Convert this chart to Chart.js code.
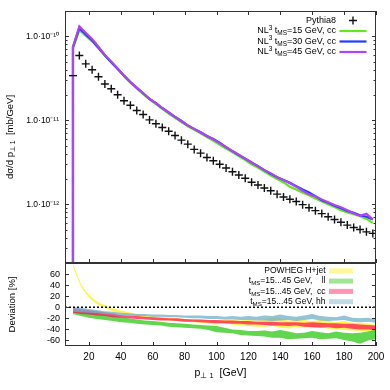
<!DOCTYPE html>
<html>
<head>
<meta charset="utf-8">
<script src="https://cdn.jsdelivr.net/npm/chart.js@4.4.0/dist/chart.umd.min.js"></script>
<style>
  html, body { margin: 0; padding: 0; background: #fff; }
  #wrap { position: relative; width: 390px; height: 390px; overflow: hidden; }
  #top { position: absolute; left: 0; top: 0; }
  #bottom { position: absolute; left: 0; top: 263px; }
</style>
</head>
<body>
<div id="wrap">
  <canvas id="top" width="390" height="269"></canvas>
  <canvas id="bottom" width="390" height="127"></canvas>
</div>
<script>
// ---- data ----
const xMin = 5, xMax = 200;
const xTicks = [20, 40, 60, 80, 100, 120, 140, 160, 180, 200];

// top panel: d sigma / d pT (mb/GeV), bins centred every 4 GeV
const ptX = [10, 14, 18, 22, 26, 30, 34, 38, 42, 46, 50, 54, 58, 62, 66, 70, 74, 78, 82, 86, 90, 94, 98, 102,
             106, 110, 114, 118, 122, 126, 130, 134, 138, 142, 146, 150, 154, 158, 162, 166, 170, 174, 178, 182, 186, 190, 194, 198];
const pythia8 = [3.4e-11, 5.9e-11, 4.7e-11, 4.0e-11, 3.3e-11, 2.7e-11, 2.37e-11, 2.01e-11, 1.71e-11, 1.51e-11, 1.31e-11, 1.17e-11,
                 1.01e-11, 9.1e-12, 8.2e-12, 7.4e-12, 6.6e-12, 5.8e-12, 5.2e-12, 4.5e-12, 4.06e-12, 3.61e-12, 3.3e-12, 3.0e-12,
                 2.7e-12, 2.44e-12, 2.23e-12, 2.04e-12, 1.83e-12, 1.70e-12, 1.56e-12, 1.45e-12, 1.32e-12, 1.22e-12, 1.15e-12, 1.08e-12,
                 9.9e-13, 9.1e-13, 8.4e-13, 7.75e-13, 7.1e-13, 6.6e-13, 6.1e-13, 5.65e-13, 5.3e-13, 5.0e-13, 4.7e-13, 4.5e-13];
const nl15 = [7.2e-11, 1.18e-10, 1.01e-10, 8.7e-11, 7.2e-11, 5.9e-11, 4.9e-11, 4.05e-11, 3.35e-11, 2.8e-11, 2.4e-11, 2.05e-11,
              1.77e-11, 1.56e-11, 1.37e-11, 1.2e-11, 1.07e-11, 9.5e-12, 8.5e-12, 7.7e-12, 7.0e-12, 6.3e-12, 5.7e-12, 5.1e-12,
              4.6e-12, 4.15e-12, 3.75e-12, 3.35e-12, 3.0e-12, 2.72e-12, 2.45e-12, 2.2e-12, 2.0e-12, 1.82e-12, 1.62e-12, 1.5e-12,
              1.37e-12, 1.28e-12, 1.17e-12, 1.08e-12, 1.0e-12, 9.3e-13, 8.5e-13, 8.0e-13, 7.6e-13, 7.2e-13, 6.7e-13, 6.0e-13];
const nl30 = [7.4e-11, 1.25e-10, 1.05e-10, 8.9e-11, 7.3e-11, 5.9e-11, 4.9e-11, 4.1e-11, 3.4e-11, 2.85e-11, 2.44e-11, 2.1e-11,
              1.8e-11, 1.6e-11, 1.4e-11, 1.24e-11, 1.1e-11, 9.8e-12, 8.7e-12, 7.9e-12, 7.2e-12, 6.5e-12, 6.0e-12, 5.4e-12,
              4.8e-12, 4.3e-12, 3.85e-12, 3.5e-12, 3.15e-12, 2.85e-12, 2.55e-12, 2.3e-12, 2.1e-12, 1.95e-12, 1.8e-12, 1.64e-12,
              1.5e-12, 1.38e-12, 1.25e-12, 1.12e-12, 1.04e-12, 9.6e-13, 9.0e-13, 8.3e-13, 7.9e-13, 7.4e-13, 7.1e-13, 6.6e-13];
const nl45 = [7.5e-11, 1.31e-10, 1.10e-10, 9.3e-11, 7.5e-11, 6.0e-11, 5.0e-11, 4.15e-11, 3.4e-11, 2.85e-11, 2.45e-11, 2.1e-11,
              1.8e-11, 1.6e-11, 1.4e-11, 1.24e-11, 1.1e-11, 9.8e-12, 8.7e-12, 7.9e-12, 7.2e-12, 6.5e-12, 5.9e-12, 5.35e-12,
              4.8e-12, 4.3e-12, 3.9e-12, 3.5e-12, 3.15e-12, 2.85e-12, 2.55e-12, 2.35e-12, 2.1e-12, 1.95e-12, 1.78e-12, 1.62e-12,
              1.45e-12, 1.32e-12, 1.24e-12, 1.14e-12, 1.06e-12, 9.8e-13, 9.2e-13, 8.5e-13, 7.8e-13, 7.3e-13, 7.7e-13, 6.6e-13];
const belowCut = 1e-14;   // value below the pT cut, off the axis
const yTopTicks = [1e-12, 1e-11, 1e-10];
const yTopLabels = ['1.0·10⁻¹²', '1.0·10⁻¹¹', '1.0·10⁻¹⁰'];

// bottom panel: deviation bands in %, every 5 GeV
const bandX = [10, 15, 20, 25, 30, 35, 40, 45, 50, 55, 60, 65, 70, 75, 80, 85, 90, 95, 100,
               105, 110, 115, 120, 125, 130, 135, 140, 145, 150, 155, 160, 165, 170, 175, 180, 185, 190, 195, 200];
const powhegHi = [79, 43, 23, 11, 4, -2, -6, -9, -12, -14, -16, -17, -19, -20, -21, -21, -22, -23, -24,
                  -22, -23, -24, -23, -24, -22, -19, -20, -24, -22, -23, -25, -23, -24, -27, -25, -28, -28, -30, -32];
const powhegLo = [74, 38, 18, 6, -1, -7, -11, -15, -17, -19, -21, -23, -24, -25, -26, -27, -28, -30, -31,
                  -30, -31, -33, -34, -35, -35, -34, -37, -38, -36, -37, -37, -36, -39, -40, -41, -42, -43, -44, -46];
const llHi = [-5, -7, -9, -10, -13, -15, -18, -20, -22, -24, -25, -26, -28, -29, -30, -31, -32, -33, -34,
              -37, -40, -41, -43, -43, -42, -44, -41, -44, -47, -46, -43, -45, -47, -44, -46, -47, -46, -44, -40];
const llLo = [-12, -16, -19, -21, -23, -25, -27, -28, -30, -31, -32, -33, -35, -36, -37, -38, -39, -41, -45,
              -46, -47, -50, -51, -52, -53, -55, -55, -58, -57, -56, -55, -58, -57, -56, -59, -62, -66, -60, -58];
const ccHi = [-1, -3, -5, -7, -9, -11, -14, -15, -16, -17, -18, -19, -20, -20, -21, -22, -22, -23, -23,
              -24, -24, -25, -25, -26, -26, -26, -27, -27, -27, -28, -27, -28, -29, -29, -30, -30, -31, -32, -33];
const ccLo = [-10, -12, -13, -15, -16, -18, -19, -20, -21, -22, -23, -24, -24, -25, -26, -26, -27, -28, -29,
              -29, -30, -30, -31, -31, -32, -33, -33, -34, -33, -35, -36, -37, -36, -38, -37, -39, -40, -40, -41];
const hhHi = [0, -1, -3, -5, -7, -8, -10, -11, -12, -12, -13, -13, -14, -14, -15, -15, -15, -16, -16,
              -17, -16, -17, -16, -17, -15, -16, -13, -16, -17, -15, -12, -16, -17, -18, -15, -19, -20, -19, -22];
const hhLo = [-8, -9, -10, -11, -12, -13, -14, -15, -16, -16, -17, -17, -18, -18, -19, -20, -20, -21, -21,
              -22, -22, -23, -23, -24, -24, -25, -24, -23, -25, -23, -21, -24, -25, -24, -23, -26, -27, -26, -28];
const devTicks = [-60, -40, -20, 0, 20, 40, 60];

// ---- helpers ----
const FONT = '"Liberation Sans", Arial, Helvetica, sans-serif';
Chart.defaults.font.family = FONT;
Chart.defaults.color = '#000';

const pts = (xs, ys) => xs.map((x, i) => ({ x: x, y: ys[i] }));

// fixed axis box: no label overhang padding
const fixBox = (w, h) => s => {
  if (w !== null) s.width = w;
  if (h !== null) s.height = h;
  s.paddingTop = 0; s.paddingBottom = 0; s.paddingLeft = 0; s.paddingRight = 0;
};

function richParts(text) {
  const parts = [];
  const re = /([\^_])\{([^}]*)\}/g;
  let last = 0, m;
  while ((m = re.exec(text))) {
    if (m.index > last) parts.push({ t: text.slice(last, m.index), k: '' });
    parts.push({ t: m[2], k: m[1] });
    last = re.lastIndex;
  }
  if (last < text.length) parts.push({ t: text.slice(last), k: '' });
  return parts;
}

function drawRich(ctx, text, x, y, size, align) {
  const parts = richParts(text);
  const fontOf = k => (k ? size * 0.72 : size) + 'px ' + FONT;
  let w = 0;
  parts.forEach(p => { ctx.font = fontOf(p.k); p.w = ctx.measureText(p.t).width; w += p.w; });
  let cx = align === 'right' ? x - w : align === 'center' ? x - w / 2 : x;
  ctx.textAlign = 'left';
  ctx.textBaseline = 'middle';
  ctx.fillStyle = '#000';
  parts.forEach(p => {
    ctx.font = fontOf(p.k);
    const dy = p.k === '^' ? -size * 0.33 : p.k === '_' ? size * 0.3 : 0;
    ctx.fillText(p.t, cx, y + dy);
    cx += p.w;
  });
}

// frame box, inward gnuplot-style ticks, axis titles and legend
const decor = {
  id: 'decor',
  afterDatasetsDraw(chart, args, o) {
    const { ctx, chartArea: a, scales } = chart;
    ctx.save();
    ctx.strokeStyle = '#333';
    ctx.lineWidth = 1;
    ctx.beginPath();
    const L = 4;
    xTicks.forEach(v => {
      const px = Math.round(scales.x.getPixelForValue(v)) + 0.5;
      ctx.moveTo(px, a.bottom); ctx.lineTo(px, a.bottom - L);
      if (o.xTop) { ctx.moveTo(px, a.top); ctx.lineTo(px, a.top + L); }
    });
    (o.yMajor || []).forEach(v => {
      const py = Math.round(scales.y.getPixelForValue(v)) + 0.5;
      ctx.moveTo(a.left, py); ctx.lineTo(a.left + L, py);
      ctx.moveTo(a.right, py); ctx.lineTo(a.right - L, py);
    });
    (o.yMinor || []).forEach(v => {
      const py = Math.round(scales.y.getPixelForValue(v)) + 0.5;
      if (py < a.top || py > a.bottom) return;
      ctx.moveTo(a.left, py); ctx.lineTo(a.left + 2.5, py);
      ctx.moveTo(a.right, py); ctx.lineTo(a.right - 2.5, py);
    });
    ctx.stroke();
    ctx.strokeRect(Math.round(a.left) + 0.5, Math.round(a.top) + 0.5,
                   Math.round(a.right - a.left) - 1, Math.round(a.bottom - a.top) - 1);

    // axis titles
    if (o.yTitle) {
      ctx.save();
      ctx.translate(o.yTitle.x, (a.top + a.bottom) / 2);
      ctx.rotate(-Math.PI / 2);
      drawRich(ctx, o.yTitle.text, 0, 0, o.yTitle.size, 'center');
      ctx.restore();
    }
    if (o.xTitle) drawRich(ctx, o.xTitle.text, (a.left + a.right) / 2, o.xTitle.y, o.xTitle.size, 'center');

    // legend: text right-aligned, then key sample
    const lg = o.legend;
    if (lg) {
      let row = 0;
      chart.data.datasets.forEach(ds => {
        if (!ds.label) return;
        const y = lg.y + row * lg.step;
        drawRich(ctx, ds.label, lg.textRight, y, lg.size, 'right');
        const x0 = lg.textRight + 3.5, x1 = x0 + lg.keyWidth;
        if (ds.showLine === false) {
          ctx.strokeStyle = ds.borderColor; ctx.lineWidth = 1.4;
          const c = (x0 + x1) / 2;
          ctx.beginPath();
          ctx.moveTo(c - 4, y); ctx.lineTo(c + 4, y);
          ctx.moveTo(c, y - 4); ctx.lineTo(c, y + 4);
          ctx.stroke();
        } else if (ds.fill) {
          ctx.fillStyle = ds.legendColor;
          ctx.fillRect(x0, y - 2.5, x1 - x0, 5);
        } else {
          ctx.strokeStyle = ds.borderColor; ctx.lineWidth = ds.borderWidth;
          ctx.beginPath(); ctx.moveTo(x0, y); ctx.lineTo(x1, y); ctx.stroke();
        }
        row++;
      });
    }
    ctx.restore();
  }
};

// minor log tick values for the top panel
const logMinor = [];
[-13, -12, -11, -10].forEach(e => { for (let m = 2; m <= 9; m++) logMinor.push(m * Math.pow(10, e)); });

// ---- top panel ----
const nlLine = (label, ys, color, order) => ({
  label: label,
  data: [{ x: ptX[0], y: belowCut }].concat(pts(ptX, ys)),
  borderColor: color,
  borderWidth: 2.2,
  pointRadius: 0,
  fill: false,
  tension: 0,
  order: order
});

new Chart(document.getElementById('top'), {
  type: 'line',
  data: {
    datasets: [
      {
        label: 'Pythia8',
        data: pts(ptX, pythia8),
        showLine: false,
        borderColor: '#111',
        backgroundColor: '#111',
        pointStyle: ctx => (ctx.dataIndex === 0 ? 'line' : 'cross'),
        pointRadius: 4,
        pointBorderWidth: 1.4,
        order: 0
      },
      nlLine('NL^{3} t_{MS}=15 GeV, cc', nl15, '#62e81c', 3),
      nlLine('NL^{3} t_{MS}=30 GeV, cc', nl30, '#1f3cff', 2),
      nlLine('NL^{3} t_{MS}=45 GeV, cc', nl45, '#b043f2', 1)
    ]
  },
  options: {
    responsive: false,
    animation: false,
    layout: { padding: { top: 11, right: 14, bottom: 6, left: 0 } },
    scales: {
      x: { type: 'linear', min: xMin, max: xMax, display: false },
      y: {
        type: 'logarithmic',
        min: 2e-13,
        max: 2e-10,
        afterFit: fixBox(65, null),
        afterBuildTicks: s => { s.ticks = yTopTicks.map(v => ({ value: v })); },
        grid: { display: false, drawTicks: false },
        border: { display: false },
        ticks: { padding: 6, font: { size: 8.5 }, callback: (v, i) => yTopLabels[i] }
      }
    },
    plugins: {
      legend: { display: false },
      tooltip: { enabled: false },
      decor: {
        xTop: true,
        yMajor: yTopTicks,
        yMinor: logMinor,
        yTitle: { text: 'dσ/d p_{⊥ 1}  [mb/GeV]', x: 10, size: 9.5 },
        legend: { y: 20.5, step: 10.5, textRight: 336, keyWidth: 27, size: 9 }
      }
    }
  },
  plugins: [decor]
});

// ---- bottom panel ----
const band = (label, hi, lo, rgb, order, extra) => [
  Object.assign({
    label: label,
    data: pts(bandX, hi),
    borderColor: 'rgba(0,0,0,0)',
    backgroundColor: 'rgba(' + rgb + ',0.75)',
    legendColor: 'rgba(' + rgb + ',0.45)',
    pointRadius: 0,
    fill: '+1',
    order: order
  }, extra || {}),
  Object.assign({
    label: '',
    data: pts(bandX, lo),
    borderColor: 'rgba(0,0,0,0)',
    pointRadius: 0,
    fill: false,
    order: order
  }, extra || {})
];

new Chart(document.getElementById('bottom'), {
  type: 'line',
  data: {
    datasets: [].concat(
      band('POWHEG H+jet', powhegHi, powhegLo, '255,240,30', 4, { cubicInterpolationMode: 'monotone' }),
      band('t_{MS}=15...45 GeV,    ll', llHi, llLo, '45,200,20', 3),
      band('t_{MS}=15...45 GeV,  cc', ccHi, ccLo, '255,20,85', 2),
      band('t_{MS}=15...45 GeV, hh', hhHi, hhLo, '110,175,200', 1),
      [{
        label: '',
        data: [{ x: xMin, y: 0 }, { x: xMax, y: 0 }],
        borderColor: '#000',
        borderWidth: 1.3,
        borderDash: [2, 2],
        pointRadius: 0,
        fill: false,
        order: 0
      }]
    )
  },
  options: {
    responsive: false,
    animation: false,
    layout: { padding: { top: 0, right: 14, bottom: 0, left: 0 } },
    scales: {
      x: {
        type: 'linear',
        min: xMin,
        max: xMax,
        afterFit: fixBox(null, 44),
        afterBuildTicks: s => { s.ticks = xTicks.map(v => ({ value: v })); },
        grid: { display: false, drawTicks: false },
        border: { display: false },
        ticks: { padding: 5, font: { size: 10 }, maxRotation: 0 }
      },
      y: {
        min: -70,
        max: 80,
        afterFit: fixBox(65, null),
        afterBuildTicks: s => { s.ticks = devTicks.map(v => ({ value: v })); },
        grid: { display: false, drawTicks: false },
        border: { display: false },
        ticks: { padding: 5, font: { size: 9 } }
      }
    },
    plugins: {
      legend: { display: false },
      tooltip: { enabled: false },
      decor: {
        xTop: false,
        yMajor: devTicks,
        yTitle: { text: 'Deviation [%]', x: 12, size: 9.5 },
        xTitle: { text: 'p_{⊥ 1}  [GeV]', y: 110, size: 10.5 },
        legend: { y: 7.8, step: 10.3, textRight: 325.5, keyWidth: 24, size: 8.5 }
      }
    }
  },
  plugins: [decor]
});
</script>
</body>
</html>
